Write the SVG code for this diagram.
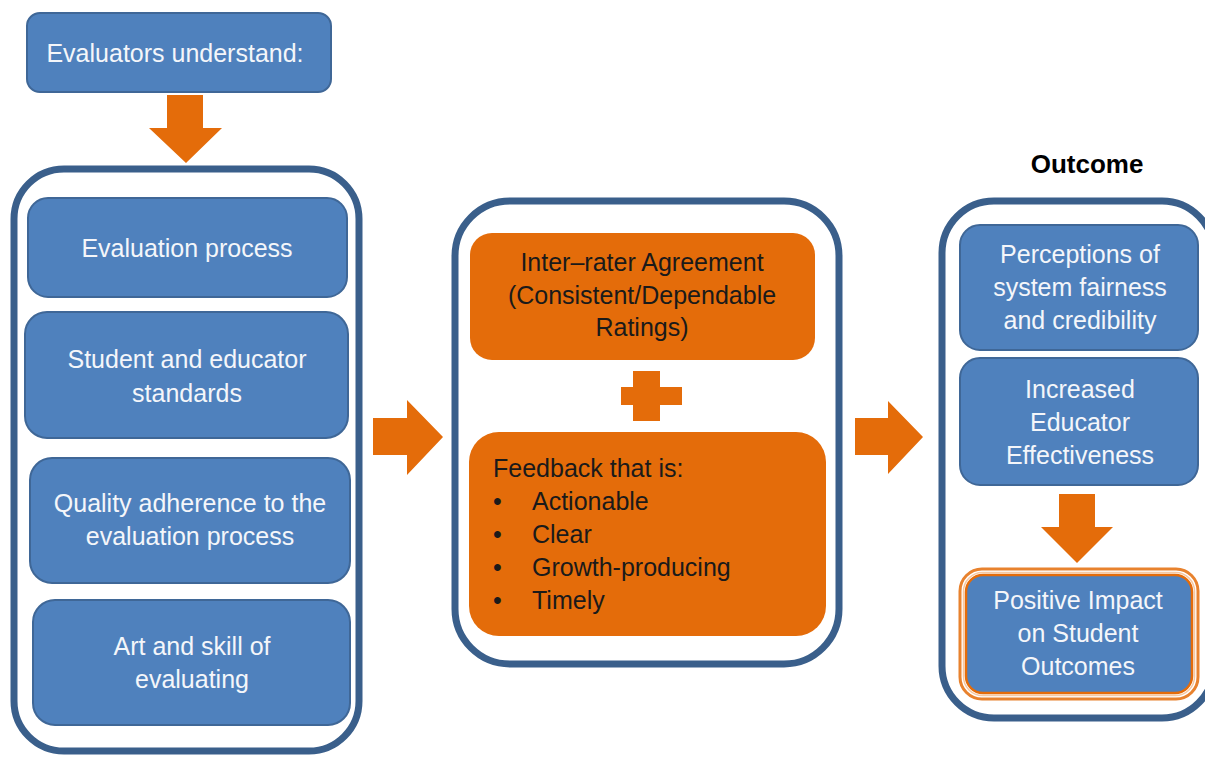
<svg xmlns="http://www.w3.org/2000/svg" width="1205" height="757" viewBox="0 0 1205 757">
  <style>
    .blue { fill: #4F81BD; stroke: #3F6797; stroke-width: 2; }
    .frame { fill: #FFFFFF; stroke: #3A5F8B; stroke-width: 7; }
    .orange { fill: #E46C0A; stroke: none; }
    .arrow { fill: #E46C0A; stroke: none; }
    .wt { font-family: "Liberation Sans", Arial, sans-serif; font-size: 25px; fill: #F4F6FA; text-anchor: middle; }
    .dk { font-family: "Liberation Sans", Arial, sans-serif; font-size: 25px; fill: #1A1A1A; }
    .mid { text-anchor: middle; }
    .head { font-family: "Liberation Sans", Arial, sans-serif; font-size: 26px; font-weight: bold; fill: #000000; text-anchor: middle; }
  </style>

  <rect x="0" y="0" width="1205" height="757" fill="#FFFFFF"/>

  <!-- containers -->
  <g id="frame-left"><rect class="frame" x="14" y="169" width="345" height="582" rx="50"/></g>
  <g id="frame-middle"><rect class="frame" x="455" y="201" width="384" height="463" rx="55"/></g>
  <g id="frame-right"><rect class="frame" x="942" y="201" width="272" height="517" rx="52"/></g>

  <!-- connectors -->
  <g id="connectors">
    <polygon class="arrow" points="167,95 203,95 203,128 222,128 186,163 149,128 167,128"/>
    <polygon class="arrow" points="373,418 407,418 407,400 443,437 407,475 407,455 373,455"/>
    <polygon class="arrow" points="855,418 888,418 888,401 923,437 888,474 888,455 855,455"/>
    <polygon class="arrow" points="1059,494 1095,494 1095,527 1113,527 1077,563 1041,527 1059,527"/>
  </g>

  <g id="evaluators">
    <rect class="blue" x="27" y="13" width="304" height="79" rx="13"/>
    <text class="wt" x="175" y="62">Evaluators understand:</text>
  </g>

  <g id="evaluation-process">
    <rect class="blue" x="28" y="198" width="319" height="99" rx="20"/>
    <text class="wt" x="187" y="257">Evaluation process</text>
  </g>

  <g id="standards">
    <rect class="blue" x="25" y="312" width="323" height="126" rx="22"/>
    <text class="wt" x="187" y="368">Student and educator</text>
    <text class="wt" x="187" y="402">standards</text>
  </g>

  <g id="quality-adherence">
    <rect class="blue" x="30" y="458" width="320" height="125" rx="22"/>
    <text class="wt" x="190" y="512">Quality adherence to the</text>
    <text class="wt" x="190" y="545">evaluation process</text>
  </g>

  <g id="art-and-skill">
    <rect class="blue" x="33" y="600" width="317" height="125" rx="22"/>
    <text class="wt" x="192" y="655">Art and skill of</text>
    <text class="wt" x="192" y="688">evaluating</text>
  </g>

  <g id="inter-rater">
    <rect class="orange" x="470" y="233" width="345" height="127" rx="22"/>
    <text class="dk mid" x="642" y="271">Inter–rater Agreement</text>
    <text class="dk mid" x="642" y="304">(Consistent/Dependable</text>
    <text class="dk mid" x="642" y="336">Ratings)</text>
  </g>

  <g id="plus">
    <rect class="orange" x="633" y="371" width="27" height="50"/>
    <rect class="orange" x="621" y="387" width="61" height="18"/>
  </g>

  <g id="feedback">
    <rect class="orange" x="469" y="432" width="357" height="204" rx="30"/>
    <text class="dk" x="493" y="477">Feedback that is:</text>
    <text class="dk" x="493" y="510">•</text>
    <text class="dk" x="532" y="510">Actionable</text>
    <text class="dk" x="493" y="543">•</text>
    <text class="dk" x="532" y="543">Clear</text>
    <text class="dk" x="493" y="576">•</text>
    <text class="dk" x="532" y="576">Growth-producing</text>
    <text class="dk" x="493" y="609">•</text>
    <text class="dk" x="532" y="609">Timely</text>
  </g>

  <g id="outcome-title">
    <text class="head" x="1087" y="173">Outcome</text>
  </g>

  <g id="perceptions">
    <rect class="blue" x="960" y="225" width="238" height="125" rx="20"/>
    <text class="wt" x="1080" y="263">Perceptions of</text>
    <text class="wt" x="1080" y="296">system fairness</text>
    <text class="wt" x="1080" y="329">and credibility</text>
  </g>

  <g id="effectiveness">
    <rect class="blue" x="960" y="358" width="238" height="127" rx="20"/>
    <text class="wt" x="1080" y="398">Increased</text>
    <text class="wt" x="1080" y="431">Educator</text>
    <text class="wt" x="1080" y="464">Effectiveness</text>
  </g>

  <g id="student-outcomes">
    <rect x="960" y="569" width="238" height="130" rx="22" fill="none" stroke="#E8822E" stroke-width="3"/>
    <rect x="963.5" y="572.5" width="231" height="123" rx="19" fill="none" stroke="#F7C9A3" stroke-width="1.5"/>
    <rect x="966" y="575" width="226" height="118" rx="17" fill="#4F81BD" stroke="#E46C0A" stroke-width="2.5"/>
    <text class="wt" x="1078" y="609">Positive Impact</text>
    <text class="wt" x="1078" y="642">on Student</text>
    <text class="wt" x="1078" y="675">Outcomes</text>
  </g>
</svg>
